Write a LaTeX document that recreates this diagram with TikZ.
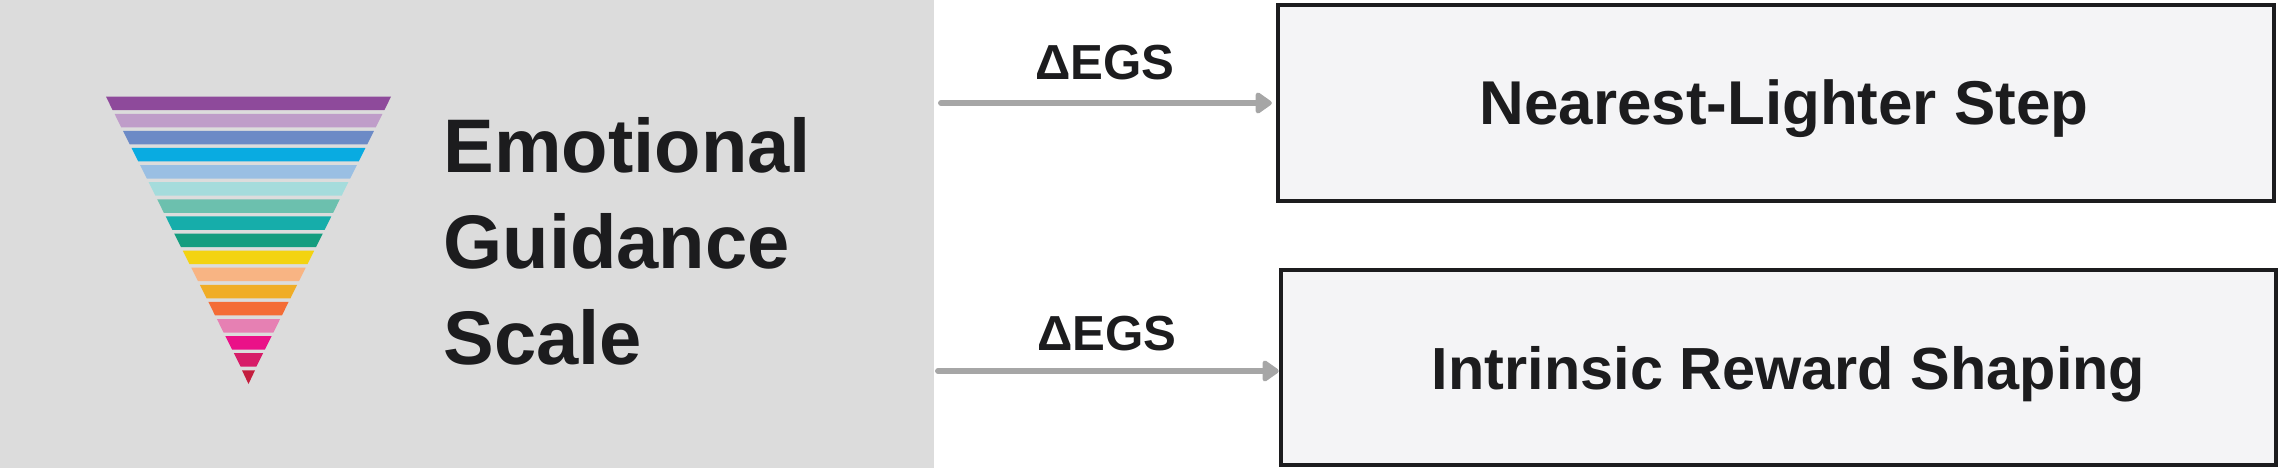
\documentclass[tikz,border=0pt]{standalone}
\usepackage{fontspec}
\setmainfont{Liberation Sans}
\usetikzlibrary{arrows.meta}
\definecolor{panelgray}{HTML}{DCDCDC}
\definecolor{boxfill}{HTML}{F4F4F6}
\definecolor{inkdark}{HTML}{1C1C1E}
\definecolor{arrowgray}{HTML}{A6A6A6}
\definecolor{band0}{HTML}{8E4A9B}
\definecolor{band1}{HTML}{BF9DC9}
\definecolor{band2}{HTML}{6C8AC6}
\definecolor{band3}{HTML}{09ABE1}
\definecolor{band4}{HTML}{9ABFE3}
\definecolor{band5}{HTML}{A5DCDC}
\definecolor{band6}{HTML}{6CC0AE}
\definecolor{band7}{HTML}{16ADAA}
\definecolor{band8}{HTML}{149D7F}
\definecolor{band9}{HTML}{F3D311}
\definecolor{band10}{HTML}{F8B483}
\definecolor{band11}{HTML}{F0AD26}
\definecolor{band12}{HTML}{F46C36}
\definecolor{band13}{HTML}{E680B3}
\definecolor{band14}{HTML}{EA1188}
\definecolor{band15}{HTML}{D71C68}
\definecolor{band16}{HTML}{C41E3E}
\tikzset{
  resultbox/.style={draw=inkdark,line width=1.13pt,fill=boxfill,inner sep=0pt},
  resultlabel/.style={text=inkdark,inner sep=0pt,text height=12.4pt,text depth=0pt},
  deltalabel/.style={text=inkdark,inner sep=0pt,font=\fontsize{14}{17}\selectfont\bfseries},
  gainarrow/.style={draw=arrowgray,line width=1.7pt,line cap=round,
    -{Triangle[round,length=5.1pt,width=6.8pt]}}
}
\begin{document}
\begin{tikzpicture}[x=0.01cm,y=-0.01cm]
	  \useasboundingbox (0,0) rectangle (2280,470);
	  % Draw the grey panel
	  \node (panel) [fill=panelgray,inner sep=0pt,minimum width=9.34cm,minimum height=4.68cm] at (467,234) {};
	  % Draw the stacked bands of the funnel
	  \foreach \i in {0,...,15} {
	    \fill[band\i] ({106+8.53*\i},{96.7+17.1*\i}) -- ({391-8.53*\i},{96.7+17.1*\i})
	      -- ({384.3-8.53*\i},{110.2+17.1*\i}) -- ({112.7+8.53*\i},{110.2+17.1*\i}) -- cycle;
	  }
	  \fill[band16] (242,370.3) -- (255,370.3) -- (248.5,384) -- cycle;
	  % Title next to the funnel
	  \node (title) [anchor=west,align=left,text=inkdark,inner sep=0pt,
	      font=\fontsize{21.6}{27.3}\selectfont\bfseries] at (443,241) {Emotional\\Guidance\\Scale};
	  % Draw the two result boxes
	  \node (stepbox) [resultbox,minimum width=9.96cm,minimum height=1.96cm] at (1776,103) {};
	  \node (shapingbox) [resultbox,minimum width=9.95cm,minimum height=1.95cm] at (1778.5,367.5) {};
	  \node (steplabel) [resultlabel,font=\fontsize{17.6}{21}\selectfont\bfseries,xshift=0.08cm] at (stepbox) {Nearest-Lighter Step};
	  \node (shapinglabel) [resultlabel,font=\fontsize{16.9}{21}\selectfont\bfseries,xshift=0.1cm] at (shapingbox) {Intrinsic Reward Shaping};
	  % Draw the arrows and their labels
	  \coordinate (startA) at (941,103);
	  \coordinate (startB) at (938,371);
	  \draw[gainarrow,shorten >=1.1pt] (startA) -- (stepbox.west);
	  \draw[gainarrow] (startB) -- (startB -| shapingbox.west);
	  \node (deltaA) [deltalabel] at (1105,63) {ΔEGS};
	  \node (deltaB) [deltalabel] at (1107,334) {ΔEGS};
      \end{tikzpicture}
\end{document}
